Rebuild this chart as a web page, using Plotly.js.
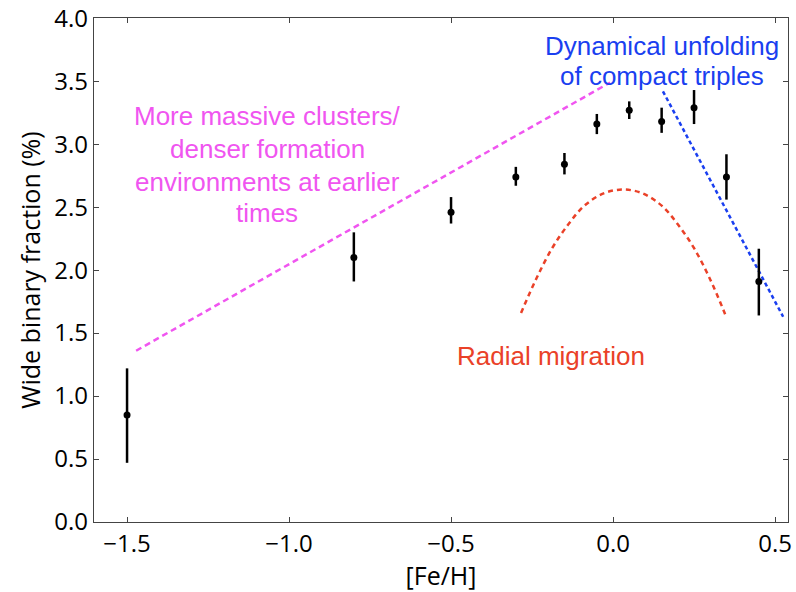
<!DOCTYPE html>
<html>
<head>
<meta charset="utf-8">
<script src="https://cdn.plot.ly/plotly-3.0.1.min.js"></script>
<style>html,body{margin:0;padding:0;background:#fff;}#chart{width:796px;height:592px;}</style>
</head>
<body>
<div id="chart"></div>
<script>
// Data points: [Fe/H] bins, wide binary fraction (%) and asymmetric errors
const feh = [-1.5, -0.8, -0.5, -0.3, -0.15, -0.05, 0.05, 0.15, 0.25, 0.35, 0.45];
const wbf = [0.85, 2.10, 2.46, 2.74, 2.84, 3.16, 3.27, 3.18, 3.29, 2.74, 1.91];
const errUp = [0.37, 0.20, 0.12, 0.08, 0.09, 0.08, 0.07, 0.11, 0.14, 0.18, 0.26];
const errDown = [0.38, 0.19, 0.09, 0.07, 0.08, 0.08, 0.07, 0.09, 0.13, 0.18, 0.27];

// Trend lines
const massiveX = [-1.472, -0.009];
const massiveY = [1.36, 3.49];
const triplesX = [0.154, 0.525];
const triplesY = [3.42, 1.63];
const radialX = [-0.284, -0.239, -0.189, -0.139, -0.089, -0.029, 0.031, 0.091, 0.151, 0.201, 0.251, 0.301, 0.346];
const radialY = [1.66, 1.92, 2.17, 2.36, 2.51, 2.61, 2.64, 2.61, 2.51, 2.36, 2.17, 1.92, 1.65];

// Tick labels
const xTickVals = [-1.5, -1.0, -0.5, 0.0, 0.5];
const xTickText = ["\u22121.5", "\u22121.0", "\u22120.5", "0.0", "0.5"];
const yTickVals = [0, 0.5, 1, 1.5, 2, 2.5, 3, 3.5, 4];
const yTickText = ["0.0", "0.5", "1.0", "1.5", "2.0", "2.5", "3.0", "3.5", "4.0"];

// Text labels
const massiveText = ["More massive clusters/", "denser formation", "environments at earlier", "times"];
const triplesText = ["Dynamical unfolding", "of compact triples"];
const radialText = "Radial migration";

const colMag = "#f055f0", colBlue = "#1a3ff0", colRed = "#ea4128";
const annFont = "Liberation Sans, Arial, sans-serif";
const axFont = "Open Sans, Noto Sans, sans-serif";

const traces = [
  {x: massiveX, y: massiveY, mode: "lines", line: {color: colMag, width: 2.5, dash: "6px,4px"}, hoverinfo: "skip"},
  {x: triplesX, y: triplesY, mode: "lines", line: {color: colBlue, width: 2.5, dash: "4px,3px"}, hoverinfo: "skip"},
  {x: radialX, y: radialY, mode: "lines", line: {color: colRed, width: 2.5, dash: "5px,4px", shape: "spline"}, hoverinfo: "skip"},
  {x: feh, y: wbf, mode: "markers", marker: {color: "#000", size: 7},
   error_y: {type: "data", symmetric: false, array: errUp, arrayminus: errDown, color: "#000", thickness: 2.5, width: 0}}
];

const annotations = [];
const magY = [3.22, 2.96, 2.70, 2.45];
massiveText.forEach((t, i) => annotations.push({x: -1.068, y: magY[i], text: t, showarrow: false,
  font: {family: annFont, size: 26, color: colMag}, xanchor: "center", yanchor: "middle"}));
const blueY = [3.78, 3.54];
triplesText.forEach((t, i) => annotations.push({x: 0.151, y: blueY[i], text: t, showarrow: false,
  font: {family: annFont, size: 26, color: colBlue}, xanchor: "center", yanchor: "middle"}));
annotations.push({x: -0.191, y: 1.32, text: radialText, showarrow: false,
  font: {family: annFont, size: 26, color: colRed}, xanchor: "center", yanchor: "middle"});

const axisCommon = {
  showgrid: false, zeroline: false, showline: true, linecolor: "#444", linewidth: 1.2,
  mirror: "ticks", ticks: "inside", ticklen: 5, tickcolor: "#444", tickwidth: 1,
  ticklabeloverflow: "allow",
  tickfont: {family: axFont, size: 24, color: "#000"}
};

const layout = {
  width: 796, height: 592,
  margin: {l: 94, r: 8, t: 18, b: 70},
  paper_bgcolor: "#fff", plot_bgcolor: "#fff",
  showlegend: false,
  xaxis: Object.assign({}, axisCommon, {
    range: [-1.602, 0.54], tickvals: xTickVals, ticktext: xTickText,
    title: {text: "[Fe/H]", font: {family: axFont, size: 25, color: "#000"}, standoff: 2}
  }),
  yaxis: Object.assign({}, axisCommon, {
    range: [0, 4.002], tickvals: yTickVals, ticktext: yTickText,
    title: {text: "Wide binary fraction (%)", font: {family: axFont, size: 25, color: "#000"}, standoff: 6}
  }),
  annotations: annotations
};

Plotly.newPlot("chart", traces, layout, {displayModeBar: false, staticPlot: true});
</script>
</body>
</html>
